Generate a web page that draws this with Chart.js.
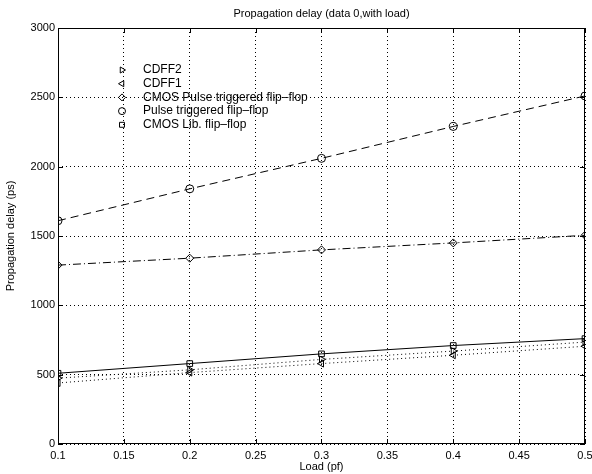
<!DOCTYPE html>
<html lang="en">
<head>
<meta charset="UTF-8">
<title>Propagation delay</title>
<script src="https://cdn.jsdelivr.net/npm/chart.js"></script>
<style>
  html, body { margin: 0; padding: 0; background: #fff; }
  #wrap { width: 592px; height: 474px; }
</style>
</head>
<body>
<div id="wrap"><canvas id="grafico" width="592" height="474"></canvas></div>
<script>
    // datos
    const cargas = [0.1, 0.2, 0.3, 0.4, 0.5];
    const cdff2 = [475, 535, 610, 670, 735];
    const cdff1 = [440, 515, 580, 640, 705];
    const cmosPulse = [1290, 1340, 1400, 1450, 1505];
    const pulse = [1610, 1840, 2060, 2290, 2510];
    const cmosLib = [510, 580, 650, 710, 760];
    const xTicks = [0.1, 0.15, 0.2, 0.25, 0.3, 0.35, 0.4, 0.45, 0.5];

    const fuente = 'Liberation Sans, Arial, sans-serif';

    function serie(label, ys, estilo, rot, dash) {
        return {
            label: label,
            data: cargas.map((x, i) => ({ x: x, y: ys[i] })),
            showLine: true,
            borderColor: '#000',
            backgroundColor: 'rgba(0,0,0,0)',
            borderWidth: 1,
            borderDash: dash,
            pointStyle: estilo,
            rotation: rot,
            pointRadius: 4,
            pointBorderWidth: 1,
            pointBorderColor: '#000',
            pointBackgroundColor: 'rgba(0,0,0,0)',
            tension: 0
        };
    }

    // leyenda dentro del area, como en matlab
    const leyenda = {
        id: 'leyenda',
        afterDraw(chart) {
            const ctx = chart.ctx;
            const area = chart.chartArea;
            ctx.save();
            // marco
            ctx.strokeStyle = '#000';
            ctx.lineWidth = 1;
            ctx.setLineDash([]);
            ctx.strokeRect(area.left + 0.5, area.top + 0.5, area.right - area.left - 1, area.bottom - area.top - 1);
            // marcas de ticks hacia adentro
            const xs = chart.scales.x, ys = chart.scales.y;
            ctx.beginPath();
            xTicks.forEach(t => {
                const px = Math.round(xs.getPixelForValue(t)) + 0.5;
                ctx.moveTo(px, area.bottom); ctx.lineTo(px, area.bottom - 5);
                ctx.moveTo(px, area.top); ctx.lineTo(px, area.top + 5);
            });
            for (let v = 0; v <= 3000; v += 500) {
                const py = Math.round(ys.getPixelForValue(v)) + 0.5;
                ctx.moveTo(area.left, py); ctx.lineTo(area.left + 5, py);
                ctx.moveTo(area.right, py); ctx.lineTo(area.right - 5, py);
            }
            ctx.stroke();
            // titulo
            ctx.fillStyle = '#000';
            ctx.font = '11px ' + fuente;
            ctx.textAlign = 'center';
            ctx.textBaseline = 'middle';
            ctx.fillText('Propagation delay (data 0,with load)', (area.left + area.right) / 2, 14);
            // entradas
            ctx.textAlign = 'left';
            ctx.font = '12px ' + fuente;
            const x0 = 122, y0 = 70, paso = 13.7;
            chart.data.datasets.forEach((ds, i) => {
                const y = y0 + i * paso;
                ctx.fillStyle = 'rgba(0,0,0,0)';
                Chart.helpers.drawPoint(ctx, {
                    pointStyle: ds.pointStyle, rotation: ds.rotation, radius: 3.5, borderWidth: 1
                }, x0, y);
                ctx.fillStyle = '#000';
                ctx.fillText(ds.label, x0 + 21, y);
            });
            ctx.restore();
        }
    };

    new Chart(document.getElementById('grafico').getContext('2d'), {
        type: 'scatter',
        data: {
            datasets: [
                serie('CDFF2', cdff2, 'triangle', 90, [1, 3]),
                serie('CDFF1', cdff1, 'triangle', -90, [1, 3]),
                serie('CMOS Pulse triggered flip\u2013flop', cmosPulse, 'rectRot', 0, [8, 3, 1, 3]),
                serie('Pulse triggered flip\u2013flop', pulse, 'circle', 0, [8, 5]),
                serie('CMOS Lib. flip\u2013flop', cmosLib, 'rect', 0, [])
            ]
        },
        options: {
            responsive: false,
            animation: false,
            layout: { padding: { top: 28, right: 7, left: 0, bottom: 0 } },
            plugins: {
                legend: { display: false },
                title: { display: false },
                tooltip: { enabled: false }
            },
            scales: {
                x: {
                    type: 'linear',
                    min: 0.1,
                    max: 0.5,
                    afterBuildTicks: s => { s.ticks = xTicks.map(v => ({ value: v })); },
                    afterFit: s => { s.height = 30; s.paddingRight = 0; s.paddingLeft = 0; },
                    grid: { color: '#000', lineWidth: 1, drawTicks: false },
                    border: { display: false, dash: [1, 3] },
                    ticks: { color: '#000', font: { family: fuente, size: 11 }, padding: 5, maxRotation: 0, callback: v => String(v) },
                    title: { display: true, text: 'Load (pf)', color: '#000', font: { family: fuente, size: 11 }, padding: 0 }
                },
                y: {
                    min: 0,
                    max: 3000,
                    afterFit: s => { s.width = 58; },
                    grid: { color: '#000', lineWidth: 1, drawTicks: false },
                    border: { display: false, dash: [1, 3] },
                    ticks: { stepSize: 500, color: '#000', font: { family: fuente, size: 11 }, padding: 3, callback: v => String(v) },
                    title: { display: true, text: 'Propagation delay (ps)', color: '#000', font: { family: fuente, size: 11 }, padding: 4 }
                }
            }
        },
        plugins: [leyenda]
    });
</script>
</body>
</html>
